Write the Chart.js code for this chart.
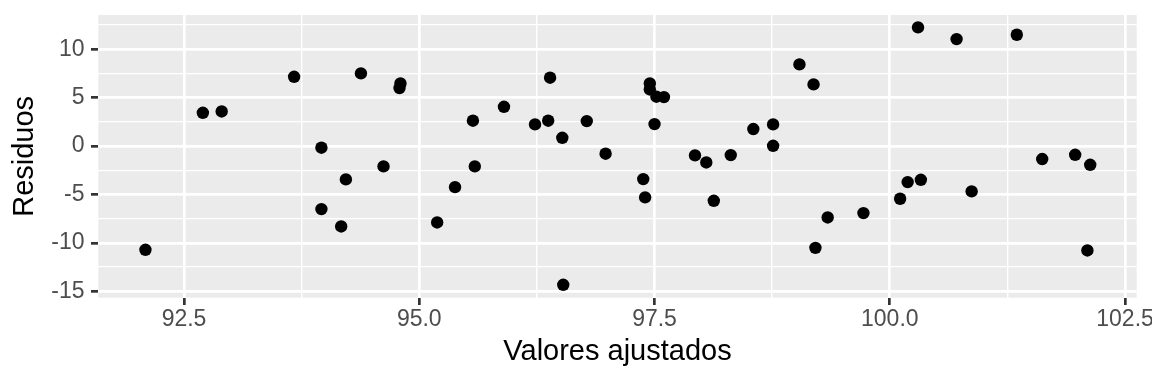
<!DOCTYPE html>
<html>
<head>
<meta charset="utf-8">
<script src="https://cdn.jsdelivr.net/npm/chart.js@4.4.0/dist/chart.umd.min.js"></script>
<style>
  html, body { margin: 0; padding: 0; background: #ffffff; }
  #wrap { width: 1152px; height: 384px; }
</style>
</head>
<body>
<div id="wrap"><canvas id="c" width="1152" height="384"></canvas></div>
<script>
// Fitted values (x) and residuals (y)
const fittedValues = [
  92.09, 92.70, 92.90, 93.67, 94.38, 93.96, 94.62, 94.22, 93.96, 94.17,
  94.80, 94.79, 96.39, 95.90, 95.57, 96.23, 96.37, 96.52, 96.78, 96.98,
  95.59, 95.38, 95.19, 96.53, 97.45, 97.45, 97.52, 97.60, 97.50, 97.38,
  97.40, 97.93, 98.05, 98.13, 98.31, 98.55, 98.76, 98.76, 99.04, 99.19,
  100.30, 100.71, 101.35, 101.62, 101.97, 102.13, 102.10, 100.19, 100.33, 100.11,
  100.87, 99.72, 99.34, 99.21
];
const residuals = [
  -10.71, 3.44, 3.58, 7.16, 7.51, -0.17, -2.10, -3.44, -6.51, -8.30,
  6.47, 5.99, 7.06, 4.06, 2.62, 2.24, 2.62, 0.86, 2.58, -0.79,
  -2.10, -4.24, -7.89, -14.33, 6.47, 5.85, 5.10, 5.06, 2.27, -3.41,
  -5.30, -0.96, -1.69, -5.65, -0.93, 1.76, 2.24, 0.03, 8.44, 6.37,
  12.26, 11.05, 11.50, -1.34, -0.90, -1.93, -10.78, -3.72, -3.48, -5.44,
  -4.68, -6.92, -7.37, -10.51
];

// Axis ticks (major labelled, minor unlabelled)
const xMajorTicks = [92.5, 95.0, 97.5, 100.0, 102.5];
const xMinorTicks = [93.75, 96.25, 98.75, 101.25];
const yMajorTicks = [-15, -10, -5, 0, 5, 10];
const yMinorTicks = [-12.5, -7.5, -2.5, 2.5, 7.5, 12.5];
const xLimits = [91.589, 102.624];
const yLimits = [-15.66, 13.54];

const xTitle = 'Valores ajustados';
const yTitle = 'Residuos';

const points = fittedValues.map((x, i) => ({ x: x, y: residuals[i] }));

const FONT = "'Liberation Sans', Arial, Helvetica, sans-serif";
const isMajor = (list, v) => list.some(m => Math.abs(m - v) < 1e-6);

function gridFor(majors) {
  return {
    color: '#ffffff',
    lineWidth: ctx => (ctx.tick && isMajor(majors, ctx.tick.value)) ? 2.7 : 1.35,
    drawTicks: true,
    tickLength: 7.3,
    tickWidth: 2.7,
    tickColor: ctx => (ctx.tick && isMajor(majors, ctx.tick.value)) ? '#333333' : 'rgba(0,0,0,0)'
  };
}

function noOverflow(s) {
  s.paddingTop = 0; s.paddingBottom = 0; s.paddingLeft = 0; s.paddingRight = 0;
}

const panelBg = {
  id: 'panelBg',
  beforeDraw(chart) {
    const { ctx, chartArea: a } = chart;
    ctx.save();
    ctx.fillStyle = '#ffffff';
    ctx.fillRect(0, 0, chart.width, chart.height);
    ctx.fillStyle = '#EBEBEB';
    ctx.fillRect(a.left, a.top, a.right - a.left, a.bottom - a.top);
    ctx.restore();
  }
};

new Chart(document.getElementById('c'), {
  type: 'scatter',
  data: {
    datasets: [{
      data: points,
      backgroundColor: '#000000',
      borderWidth: 0,
      pointRadius: 6.2,
      pointHoverRadius: 6.2
    }]
  },
  options: {
    responsive: false,
    animation: false,
    devicePixelRatio: 1,
    layout: { padding: { left: 0, right: 15.3, top: 15, bottom: 0 } },
    plugins: { legend: { display: false }, tooltip: { enabled: false } },
    scales: {
      x: {
        type: 'linear',
        min: xLimits[0],
        max: xLimits[1],
        afterBuildTicks: s => {
          s.ticks = xMajorTicks.concat(xMinorTicks)
            .filter(v => v >= xLimits[0] && v <= xLimits[1])
            .sort((a, b) => a - b)
            .map(v => ({ value: v }));
        },
        afterFit: s => { s.height = 86.3; noOverflow(s); },
        border: { display: false },
        grid: gridFor(xMajorTicks),
        ticks: {
          autoSkip: false,
          maxRotation: 0,
          padding: 1,
          color: '#4D4D4D',
          font: { family: FONT, size: 23 },
          callback: v => isMajor(xMajorTicks, v) ? Number(v).toFixed(1) : ''
        },
        title: {
          display: true,
          text: xTitle,
          color: '#000000',
          font: { family: FONT, size: 29 },
          padding: { top: 0, bottom: 15 }
        }
      },
      y: {
        type: 'linear',
        min: yLimits[0],
        max: yLimits[1],
        afterBuildTicks: s => {
          s.ticks = yMajorTicks.concat(yMinorTicks)
            .filter(v => v >= yLimits[0] && v <= yLimits[1])
            .sort((a, b) => a - b)
            .map(v => ({ value: v }));
        },
        afterFit: s => { s.width = 98.3; noOverflow(s); },
        border: { display: false },
        grid: gridFor(yMajorTicks),
        ticks: {
          autoSkip: false,
          padding: 6.5,
          color: '#4D4D4D',
          font: { family: FONT, size: 23 },
          callback: v => isMajor(yMajorTicks, v) ? String(v) : ''
        },
        title: {
          display: true,
          text: yTitle,
          color: '#000000',
          font: { family: FONT, size: 29 },
          padding: { top: 8, bottom: 0 }
        }
      }
    }
  },
  plugins: [panelBg]
});
</script>
</body>
</html>
